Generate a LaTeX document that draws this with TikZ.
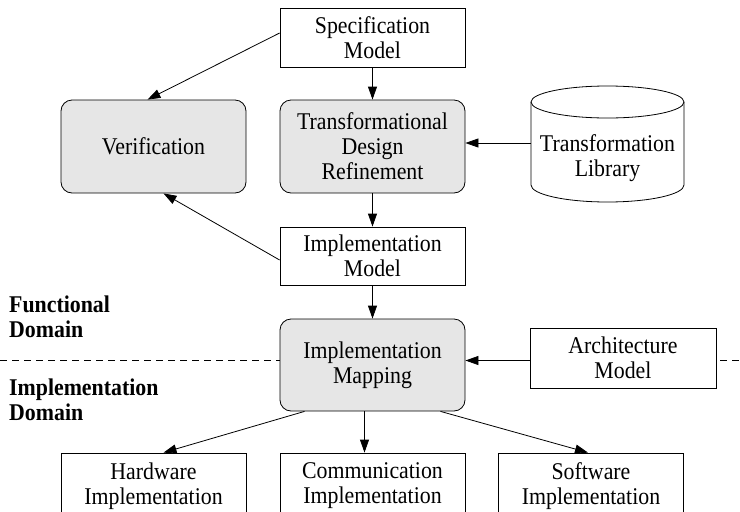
\documentclass[tikz,border=0pt]{standalone}
\usepackage{fontspec}
\setmainfont{Liberation Serif}[FakeStretch=0.91]
\usetikzlibrary{arrows.meta}
\definecolor{boxgray}{RGB}{230,230,230}
\begin{document}
\begin{tikzpicture}[x=1pt,y=-1pt,
  txt/.style={font=\fontsize{24}{25}\selectfont, align=center, inner sep=0pt},
  plainbox/.style={txt, draw, line width=0.8pt, fill=white, minimum width=185pt},
  procbox/.style={plainbox, fill=boxgray, rounded corners=11pt, minimum height=93pt},
  arr/.style={line width=0.8pt, -{Triangle[length=13pt,width=9pt]}},
  domlabel/.style={font=\bfseries\fontsize{24}{25}\selectfont, align=left, inner sep=0pt, anchor=west}]
\useasboundingbox (0,0) rectangle (740,512);
\clip (0,0) rectangle (740,512);
% divider
\draw[line width=0.8pt, dash pattern=on 7pt off 5pt] (0,360) -- (740,360);
% nodes
\node[plainbox, minimum height=59pt] (spec) at (372.5,37.5) {Specification\\Model};
\node[procbox] (verif) at (153.5,146.5) {Verification};
\node[procbox] (tdr) at (372.5,146.5) {Transformational\\Design\\Refinement};
\node[txt, minimum width=153pt] (lib) at (607.5,158) {Transformation\\Library};
\draw[line width=0.8pt] (531,102) -- (531,185) arc[start angle=180, end angle=360, x radius=76.5pt, y radius=17pt] -- (684,102);
\draw[line width=0.8pt] (607.5,102) ellipse [x radius=76.5pt, y radius=16pt];
\node[plainbox, minimum height=58pt] (impl) at (372.5,256) {Implementation\\Model};
\node[procbox, minimum height=92pt] (map) at (372.5,365) {Implementation\\Mapping};
\node[plainbox, minimum width=186pt, minimum height=60pt] (arch) at (623,358) {Architecture\\Model};
\node[plainbox, minimum height=66pt] (hw) at (153.5,486) {Hardware\\Implementation};
\node[plainbox, minimum height=66pt] (comm) at (372.5,486) {Communication\\Implementation};
\node[plainbox, minimum height=66pt] (sw) at (591,486) {Software\\Implementation};
\node[domlabel] (fd) at (9,317) {Functional\\Domain};
\node[domlabel] (id) at (9,400) {Implementation\\Domain};
% connectors
\draw[arr] ([yshift=4.5pt]spec.west) -- ([xshift=-6pt]verif.north);
\draw[arr] ([yshift=-4pt]impl.west) -- ([xshift=10pt]verif.south);
\draw[arr] (spec.south) -- (tdr.north);
\draw[arr] (tdr.south) -- (impl.north);
\draw[arr] (impl.south) -- (map.north);
\draw[arr] ([yshift=15pt]lib.west) -- ([yshift=15pt]lib.west -| tdr.east);
\draw[arr] ([yshift=-2.5pt]arch.west) -- ([yshift=-2.5pt]arch.west -| map.east);
\draw[arr] ([xshift=-68pt]map.south) -- ([xshift=10pt]hw.north);
\draw[arr] ([xshift=-8pt]map.south) -- ([xshift=-8pt]comm.north);
\draw[arr] ([xshift=68pt]map.south) -- ([xshift=-3pt]sw.north);
\end{tikzpicture}
\end{document}
